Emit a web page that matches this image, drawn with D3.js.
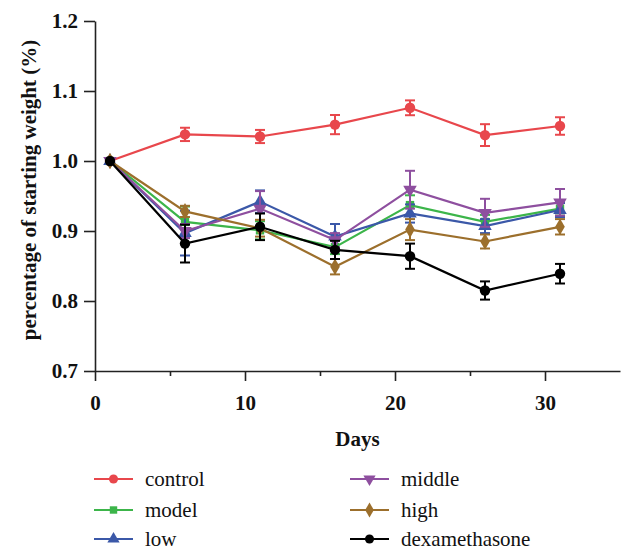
<!DOCTYPE html>
<html>
<head>
<meta charset="utf-8">
<script src="https://cdn.jsdelivr.net/npm/d3@7"></script>
<style>
  html, body { margin: 0; padding: 0; background: #fff; }
  svg { display: block; }
  svg text { font-family: "Liberation Serif", "Times New Roman", Times, "DejaVu Serif", serif; }
</style>
</head>
<body>
<svg id="chart" width="632" height="550"></svg>
<script>
// ---- data ----
const days = [1, 6, 11, 16, 21, 26, 31];
const seriesNames = ["control", "model", "low", "middle", "high", "dexamethasone"];
const controlMean = [1.000, 1.038, 1.035, 1.052, 1.076, 1.037, 1.050];
const controlErr  = [0, 0.0095, 0.0094, 0.0137, 0.0106, 0.0156, 0.0125];
const modelMean   = [1.000, 0.913, 0.901, 0.877, 0.937, 0.913, 0.932];
const modelErr    = [0, 0.022, 0.013, 0.010, 0.014, 0.010, 0.010];
const lowMean     = [1.000, 0.897, 0.942, 0.892, 0.925, 0.907, 0.930];
const lowErr      = [0, 0.032, 0.016, 0.018, 0.013, 0.010, 0.010];
const middleMean  = [1.000, 0.900, 0.932, 0.887, 0.959, 0.926, 0.941];
const middleErr   = [0, 0.010, 0.025, 0.010, 0.027, 0.020, 0.019];
const highMean    = [1.000, 0.928, 0.904, 0.849, 0.902, 0.885, 0.906];
const highErr     = [0, 0.008, 0.012, 0.011, 0.015, 0.010, 0.011];
const dexMean     = [1.000, 0.882, 0.906, 0.873, 0.864, 0.815, 0.839];
const dexErr      = [0, 0.027, 0.019, 0.013, 0.018, 0.013, 0.014];
const yTicks = [0.7, 0.8, 0.9, 1.0, 1.1, 1.2];
const xMajorTicks = [0, 10, 20, 30];
const xMinorTicks = [5, 15, 25];

const colors = ["#e8474c", "#3cb54a", "#3b58a8", "#8e4f9f", "#9c6f2c", "#000000"];
const shapes = [d3.symbolCircle, d3.symbolSquare, d3.symbolTriangle, "down", d3.symbolDiamond, d3.symbolCircle];
const means = [controlMean, modelMean, lowMean, middleMean, highMean, dexMean];
const errs = [controlErr, modelErr, lowErr, middleErr, highErr, dexErr];

// ---- scales ----
const x = d3.scaleLinear().domain([0, 35]).range([95, 620]);
const y = d3.scaleLinear().domain([0.7, 1.2]).range([371, 21]);

const svg = d3.select("#chart");
const axisColor = "#222";
const serif = '"Liberation Serif", "Times New Roman", Times, "DejaVu Serif", serif';

// ---- axes ----
svg.append("g").attr("transform", `translate(${x(0)},0)`)
  .call(d3.axisLeft(y).tickValues(yTicks).tickFormat(d3.format(".1f")).tickSize(11).tickSizeOuter(0).tickPadding(6));
svg.append("g").attr("transform", `translate(0,${y(0.7)})`)
  .call(d3.axisBottom(x).tickValues(xMajorTicks).tickFormat(d3.format("d")).tickSize(10).tickSizeOuter(0).tickPadding(14));
svg.append("g").attr("transform", `translate(0,${y(0.7)})`)
  .call(d3.axisBottom(x).tickValues(xMinorTicks).tickFormat("").tickSize(5).tickSizeOuter(0))
  .select(".domain").remove();

svg.selectAll(".domain, .tick line").attr("stroke", axisColor).attr("stroke-width", 1.6);
svg.selectAll(".tick text").attr("fill", "#111")
  .attr("font-family", serif).style("font-family", serif)
  .style("font-weight", "bold").style("font-size", "21px");

// axis titles
svg.append("text")
  .attr("transform", `translate(29,190) rotate(-90)`)
  .attr("text-anchor", "middle").attr("dominant-baseline", "central")
  .style("font-family", serif).style("font-weight", "bold").style("font-size", "21px")
  .attr("fill", "#111")
  .text("percentage of starting weight (%)");

svg.append("text")
  .attr("x", (x(0) + x(35)) / 2).attr("y", 446)
  .attr("text-anchor", "middle")
  .style("font-family", serif).style("font-weight", "bold").style("font-size", "21px")
  .attr("fill", "#111")
  .text("Days");

// ---- series ----
function symbolPath(shape, size) {
  if (shape === "down") return d3.symbol().type(d3.symbolTriangle).size(size)();
  return d3.symbol().type(shape).size(size)();
}
function addMarker(g, shape, cx, cy, size, color) {
  const p = g.append("path").attr("d", symbolPath(shape, size)).attr("fill", color);
  if (shape === "down") p.attr("transform", `translate(${cx},${cy}) rotate(180)`);
  else p.attr("transform", `translate(${cx},${cy})`);
}

const line = d3.line().x(d => x(d.day)).y(d => y(d.v));

seriesNames.forEach((name, i) => {
  const pts = days.map((d, j) => ({ day: d, v: means[i][j], e: errs[i][j] }));
  const g = svg.append("g").attr("class", "series");
  g.append("path").datum(pts).attr("d", line)
    .attr("fill", "none").attr("stroke", colors[i]).attr("stroke-width", 2.2);
  pts.filter(p => p.e > 0).forEach(p => {
    const cx = x(p.day);
    g.append("line").attr("x1", cx).attr("x2", cx).attr("y1", y(p.v + p.e)).attr("y2", y(p.v - p.e))
      .attr("stroke", colors[i]).attr("stroke-width", 2);
    [p.v + p.e, p.v - p.e].forEach(v => {
      g.append("line").attr("x1", cx - 5).attr("x2", cx + 5).attr("y1", y(v)).attr("y2", y(v))
        .attr("stroke", colors[i]).attr("stroke-width", 2);
    });
  });
  const sz = (shapes[i] === d3.symbolSquare) ? 70 : (shapes[i] === d3.symbolCircle ? 85 : 80);
  pts.forEach(p => addMarker(g, shapes[i], x(p.day), y(p.v), sz, colors[i]));
});

// ---- legend ----
const legendCols = [94, 350];
const legendRows = [479, 510, 539];
seriesNames.forEach((name, i) => {
  const col = Math.floor(i / 3), row = i % 3;
  const lx = legendCols[col], ly = legendRows[row];
  const g = svg.append("g");
  g.append("line").attr("x1", lx).attr("x2", lx + 39).attr("y1", ly).attr("y2", ly)
    .attr("stroke", colors[i]).attr("stroke-width", 2.2);
  const sz = (shapes[i] === d3.symbolSquare) ? 55 : 65;
  addMarker(g, shapes[i], lx + 19.5, ly, sz, colors[i]);
  g.append("text").attr("x", lx + 51).attr("y", ly).attr("dominant-baseline", "central")
    .style("font-family", serif).style("font-size", "21px").attr("fill", "#111")
    .text(name);
});
</script>
</body>
</html>
